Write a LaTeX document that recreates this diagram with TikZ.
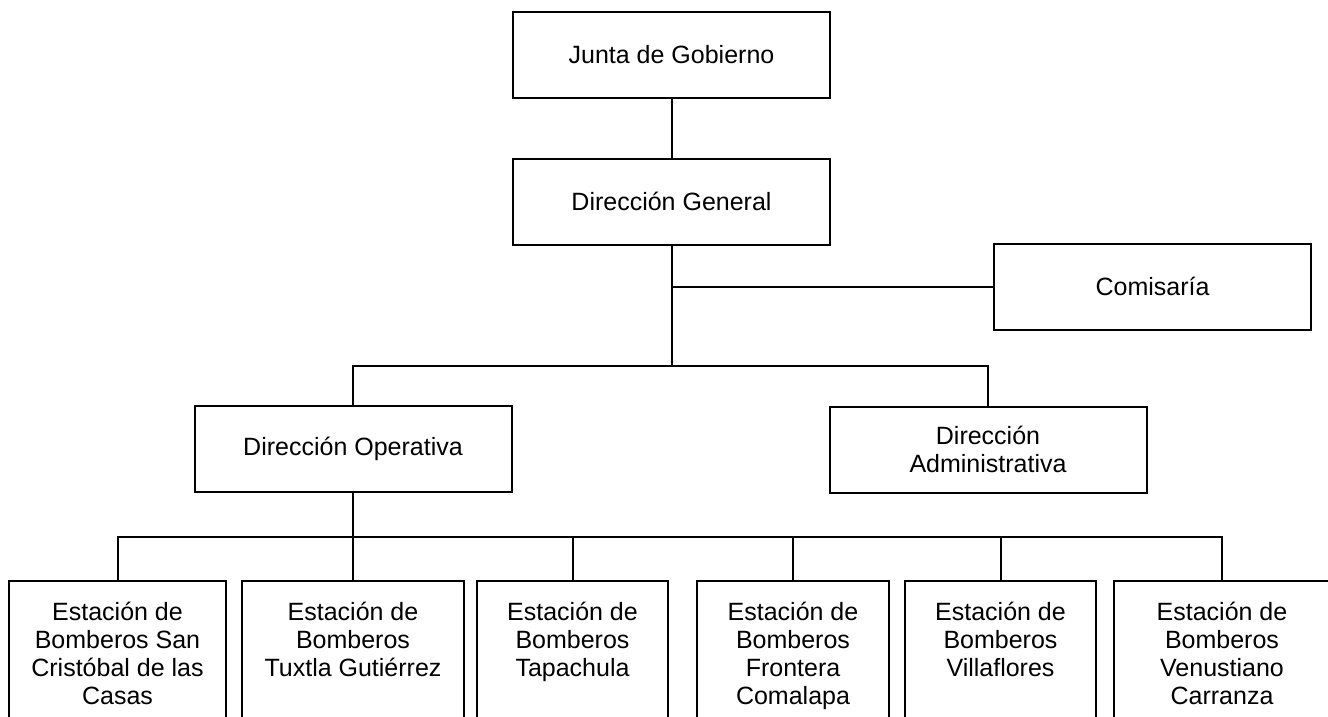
\documentclass[tikz,border=0pt]{standalone}
\usepackage{fontspec}
\setmainfont{Liberation Sans}
\usepackage{tikz}
\newcommand{\unitwidth}{317pt}
\newcommand{\unitheight}{86pt}
\newcommand{\stationheight}{149pt}
\newcommand{\stationtext}[2]{\parbox[c][\stationheight][t]{#1}{\centering\rule{0pt}{39pt}#2}}
\tikzstyle{box}=[draw, line width=2pt, inner sep=0, outer sep=0]
\tikzstyle{unit}=[box, align=center, minimum width=\unitwidth, minimum height=\unitheight]
\tikzstyle{station}=[box, anchor=north]
\tikzstyle{link}=[line width=2pt]
\tikzstyle{orgchart}=[x=1pt, y=-1pt,
                      % Arial-like text, as in the chart.
                      every node/.style={font=\fontsize{25}{28.3}\selectfont}]

\begin{document}
\begin{tikzpicture}[orgchart]
    \useasboundingbox (0, 0) rectangle (1328, 717);
    \node[unit] (junta) at (671.5, 55) {Junta de Gobierno};
    \node[unit] (general) at (671.5, 201.5) {Dirección General};
    \node[unit] (comisaria) at (1152.5, 286.5) {Comisaría};
    \node[unit] (operativa) at (353, 449) {Dirección Operativa};
    \node[unit] (admin) at (988, 449.5) {Dirección\\Administrativa};
    \coordinate (bus1) at (general.south |- 0, 366);
    \coordinate (bus2) at (operativa.south |- 0, 537);
    \node[station] (sancristobal) at (117.5, 581) {\stationtext{217pt}{Estación de\\Bomberos San\\Cristóbal de las\\Casas}};
    \node[station] (tuxtla) at (353, 581) {\stationtext{222pt}{Estación de\\Bomberos\\Tuxtla Gutiérrez}};
    \node[station] (tapachula) at (572.5, 581) {\stationtext{191pt}{Estación de\\Bomberos\\Tapachula}};
    \node[station] (frontera) at (793, 581) {\stationtext{192pt}{Estación de\\Bomberos\\Frontera\\Comalapa}};
    \node[station] (villaflores) at (1000.5, 581) {\stationtext{191pt}{Estación de\\Bomberos\\Villaflores}};
    \node[station] (carranza) at (1222, 581) {\stationtext{216pt}{Estación de\\Bomberos\\Venustiano\\Carranza}};
    \draw[link] (junta) -- (general);
    \draw[link] (general) -- (bus1);
    \draw[link] (comisaria) -- (comisaria -| bus1);
    \draw[link] (operativa) |- (bus1) -| (admin);
    \draw[link] (operativa) -- (bus2);
    \draw[link] (sancristobal) |- (bus2) -| (carranza);
    \foreach \s in {tuxtla, tapachula, frontera, villaflores}
        \draw[link] (\s) -- (\s |- bus2);
\end{tikzpicture}
\end{document}
